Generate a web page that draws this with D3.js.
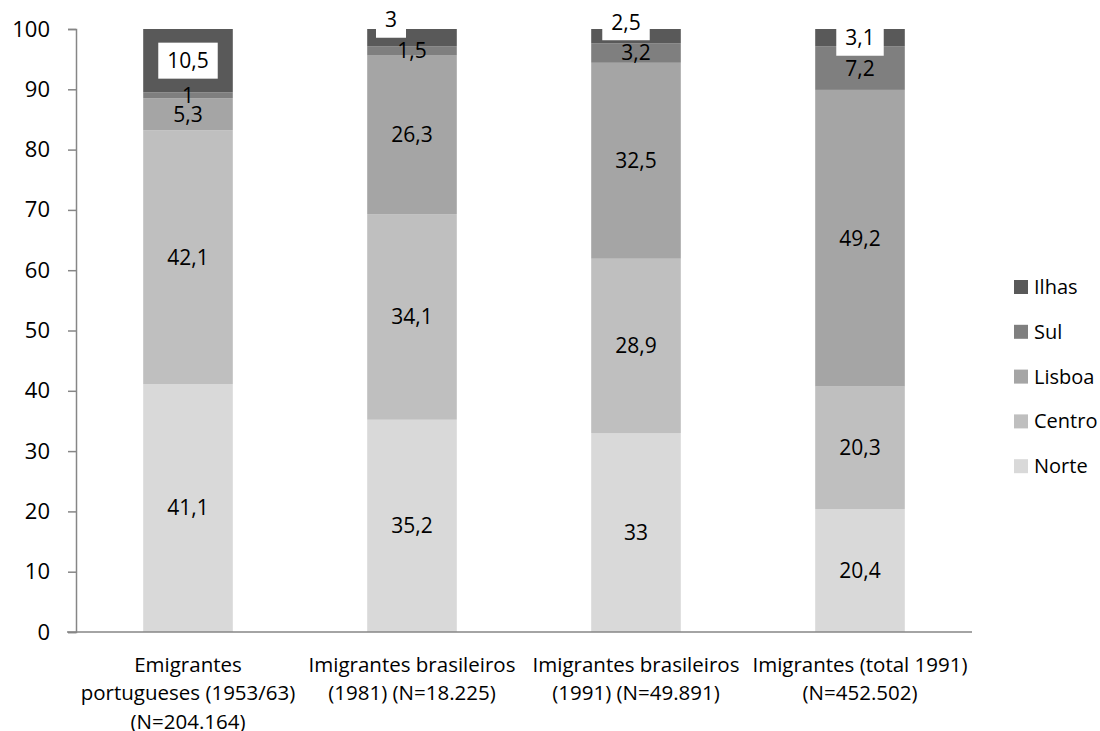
<!DOCTYPE html>
<html>
<head>
<meta charset="utf-8">
<script src="https://cdn.jsdelivr.net/npm/d3@7"></script>
<style>
  body { margin: 0; background: #fff; }
  text { font-family: "Open Sans", sans-serif; fill: #000; }
</style>
</head>
<body>
<script>
const categories = [
  ['Emigrantes', 'portugueses (1953/63)', '(N=204.164)'],
  ['Imigrantes brasileiros', '(1981) (N=18.225)'],
  ['Imigrantes brasileiros', '(1991) (N=49.891)'],
  ['Imigrantes (total 1991)', '(N=452.502)']
];
const seriesNames = ['Norte', 'Centro', 'Lisboa', 'Sul', 'Ilhas'];
const norte  = [41.1, 35.2, 33, 20.4];
const centro = [42.1, 34.1, 28.9, 20.3];
const lisboa = [5.3, 26.3, 32.5, 49.2];
const sul    = [1, 1.5, 3.2, 7.2];
const ilhas  = [10.5, 3, 2.5, 3.1];
const yTicks = [0, 10, 20, 30, 40, 50, 60, 70, 80, 90, 100];

const colors = ['#d9d9d9', '#bfbfbf', '#a5a5a5', '#7f7f7f', '#595959'];
// manual nudges for the small top labels (as in the original)
const labelNudge = {'1-4': [-21, -18], '2-4': [-10, -14]};

const width = 1100, height = 731;
const plot = {left: 76, right: 972, top: 29, bottom: 632};

const svg = d3.select('body').append('svg')
  .attr('width', width)
  .attr('height', height);

const values = [norte, centro, lisboa, sul, ilhas];
const data = categories.map((c, i) => {
  const row = {idx: i};
  seriesNames.forEach((s, j) => row[s] = values[j][i]);
  return row;
});
const stacked = d3.stack().keys(seriesNames)(data);

const xScale = d3.scaleBand()
  .domain(d3.range(categories.length))
  .range([plot.left, plot.right])
  .paddingInner(0.6)
  .paddingOuter(0.3);

const yScale = d3.scaleLinear()
  .domain([0, 100])
  .range([plot.bottom, plot.top])
  .clamp(true);

// bars
stacked.forEach((layer, j) => {
  svg.append('g')
    .attr('fill', colors[j])
    .selectAll('rect')
    .data(layer)
    .enter()
    .append('rect')
      .attr('x', (d, i) => xScale(i))
      .attr('width', xScale.bandwidth())
      .attr('y', d => yScale(d[1]))
      .attr('height', d => yScale(d[0]) - yScale(d[1]));
});

// y axis
const yAxis = d3.axisLeft(yScale).tickValues(yTicks).tickSize(8).tickPadding(18);
const ya = svg.append('g')
  .attr('transform', `translate(${plot.left},0)`)
  .call(yAxis);
ya.select('.domain').attr('stroke', '#868686').attr('stroke-width', 1.5);
ya.selectAll('.tick line').attr('stroke', '#868686').attr('stroke-width', 1.5);
ya.selectAll('.tick text').style('font-size', '22px').attr('fill', '#000');

// x axis line
svg.append('line')
  .attr('x1', plot.left - 9).attr('x2', plot.right)
  .attr('y1', plot.bottom).attr('y2', plot.bottom)
  .attr('stroke', '#868686').attr('stroke-width', 1.5);

// category labels
categories.forEach((lines, i) => {
  const t = svg.append('text')
    .attr('x', xScale(i) + xScale.bandwidth() / 2)
    .attr('y', 672)
    .attr('text-anchor', 'middle')
    .style('font-size', '20.5px');
  lines.forEach((l, k) => {
    t.append('tspan')
      .attr('x', xScale(i) + xScale.bandwidth() / 2)
      .attr('dy', k === 0 ? 0 : 28.3)
      .text(l);
  });
});

// data labels
stacked.forEach((layer, j) => {
  layer.forEach((d, i) => {
    const nudge = labelNudge[i + '-' + j] || [0, 0];
    const cx = xScale(i) + xScale.bandwidth() / 2 + nudge[0];
    const cy = (yScale(d[0]) + yScale(d[1])) / 2 + nudge[1];
    const g = svg.append('g');
    const txt = g.append('text')
      .attr('x', cx)
      .attr('y', cy)
      .attr('dy', '0.35em')
      .attr('text-anchor', 'middle')
      .style('font-size', '21px')
      .text(String(values[j][i]).replace('.', ','));
    if (seriesNames[j] === 'Ilhas') {
      const bb = txt.node().getBBox();
      g.insert('rect', 'text')
        .attr('x', bb.x - 9)
        .attr('y', cy - 18)
        .attr('width', bb.width + 18)
        .attr('height', 36)
        .attr('fill', '#fff');
    }
  });
});

// legend
const legend = svg.append('g')
  .selectAll('g')
  .data(seriesNames.slice().reverse())
  .enter()
  .append('g')
    .attr('transform', (d, i) => `translate(1014, ${287 + i * 44.8})`);
legend.append('rect')
  .attr('x', 0).attr('y', -7)
  .attr('width', 14).attr('height', 14)
  .attr('fill', d => colors[seriesNames.indexOf(d)]);
legend.append('text')
  .attr('x', 20)
  .attr('dy', '0.35em')
  .style('font-size', '20px')
  .text(d => d);
</script>
</body>
</html>
